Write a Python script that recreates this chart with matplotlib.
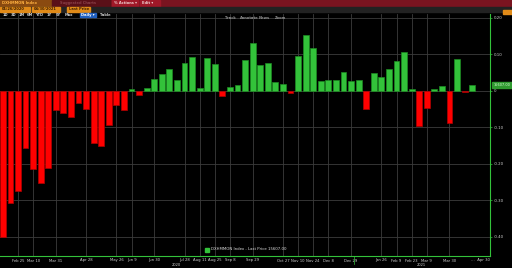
import numpy as np
import pandas as pd
import matplotlib
matplotlib.use("Agg")
import matplotlib.pyplot as plt
from matplotlib.patches import Rectangle

# --- dados ---
start = pd.Timestamp("2020-02-11")
values = [-0.400, -0.307, -0.274, -0.157, -0.215, -0.252, -0.212, -0.052, -0.061, -0.071,
          -0.035, -0.050, -0.143, -0.151, -0.094, -0.038, -0.053, 0.004, -0.012, 0.007,
          0.032, 0.046, 0.059, 0.030, 0.076, 0.092, 0.007, 0.089, 0.074, -0.015,
          0.010, 0.016, 0.084, 0.131, 0.071, 0.077, 0.025, 0.018, -0.006, 0.096,
          0.153, 0.116, 0.027, 0.030, 0.029, 0.051, 0.027, 0.029, -0.049, 0.048,
          0.038, 0.059, 0.082, 0.105, 0.005, -0.096, -0.047, 0.005, 0.014, -0.089,
          0.086, -0.003, 0.016]
dates = pd.date_range(start, periods=len(values), freq="7D")

tick_dates = ["2020-02-25", "2020-03-10", "2020-03-31", "2020-04-28", "2020-05-26", "2020-06-09",
              "2020-06-30", "2020-07-28", "2020-08-11", "2020-08-25", "2020-09-08", "2020-09-29",
              "2020-10-27", "2020-11-10", "2020-11-24", "2020-12-08", "2020-12-29",
              "2021-01-26", "2021-02-09", "2021-02-23", "2021-03-09", "2021-03-30"]
tick_labels = ["Feb 25", "Mar 10", "Mar 31", "Apr 28", "May 26", "Jun 9", "Jun 30", "Jul 28",
               "Aug 11", "Aug 25", "Sep 8", "Sep 29", "Oct 27", "Nov 10", "Nov 24", "Dec 8",
               "Dec 29", "Jan 26", "Feb 9", "Feb 23", "Mar 9", "Mar 30"]
y_ticks = [0.2, 0.1, 0.0, -0.1, -0.2, -0.3, -0.4]
y_labels = ["0.20", "0.10", "0", "-0.10", "-0.20", "-0.30", "-0.40"]
ticker = "DXHMMON Index"
last_price = "15607.00"

W, H = 512, 268
BG = "black"
GREEN = "#33c23a"
RED = "#ff0000"
GRID = "#3c3c3c"
TXT = "#d0d0d0"


def idx(d):
    return (pd.Timestamp(d) - start).days / 7.0


def fx(px):
    return px / W


def fy(py):
    return 1 - py / H


fig = plt.figure(figsize=(W / 100, H / 100), dpi=100, facecolor=BG)
ax = fig.add_axes([0, fy(256), fx(490), fy(14) - fy(256)], facecolor=BG)

x = np.array([idx(d) for d in dates])
vals = np.array(values)
cols = [GREEN if v >= 0 else RED for v in vals]
edges = ["#1d8a22" if v >= 0 else "#b00000" for v in vals]
ax.bar(x, vals, width=0.77, color=cols, edgecolor=edges, linewidth=0.5, zorder=3)

ax.set_xlim(-0.376, 64.35)
ax.set_ylim(-0.453, 0.21)

xt = [idx(d) for d in tick_dates]
ax.set_xticks(xt)
ax.set_xticklabels(tick_labels)
ax.set_yticks(y_ticks)
ax.set_yticklabels(y_labels)
ax.yaxis.tick_right()
ax.tick_params(axis="x", colors=TXT, labelsize=2.7, length=0, pad=1.8)
ax.tick_params(axis="y", colors=GREEN, labelcolor=TXT, labelsize=2.8, length=1.5, width=0.5, pad=1)

ax.grid(True, color=GRID, linewidth=0.6, zorder=0)
for s in ["left", "top"]:
    ax.spines[s].set_visible(False)
for s in ["bottom", "right"]:
    ax.spines[s].set_color(GREEN)
    ax.spines[s].set_linewidth(0.8)

# rótulo "Apr 30" e anos
fig.text(fx(490), fy(259.8), "...  Apr 30", color=TXT, fontsize=2.7, ha="right", va="center")
fig.text(fx(176), fy(264.5), "2020", color=TXT, fontsize=2.6, ha="center", va="center")
fig.text(fx(421), fy(264.5), "2021", color=TXT, fontsize=2.6, ha="center", va="center")
yb = idx("2021-01-01")
ax.plot([yb, yb], [-0.453, -0.475], color=GREEN, lw=0.5, clip_on=False)

# legenda
fig.patches.append(Rectangle((fx(205), fy(251.5)), fx(4), 4 / H, transform=fig.transFigure,
                             color=GREEN, figure=fig))
fig.text(fx(211), fy(249.5), f"{ticker} - Last Price {last_price}", color="#e0e0e0",
         fontsize=2.8, va="center")

# caixa do último preço
fig.patches.append(Rectangle((fx(492), fy(87.5)), fx(20), 6 / H, transform=fig.transFigure,
                             color="#2f9a2f", figure=fig))
fig.text(fx(502), fy(84.5), last_price, color="#d8ffd8", fontsize=2.5, ha="center", va="center")

# --- cabeçalho estilo terminal ---
def box(x0, y0, x1, y1, c):
    fig.patches.append(Rectangle((fx(x0), fy(y1)), fx(x1 - x0), (y1 - y0) / H,
                                 transform=fig.transFigure, color=c, figure=fig, zorder=5))


box(0, 0, 512, 6.5, "#7a1420")
box(0, 0, 52, 6.5, "#8a4a10")
box(52, 0, 110, 6.5, "#5a1018")
box(112, 0, 138, 6.5, "#a01828")
box(140, 0, 160, 6.5, "#a01828")
box(0, 6.5, 512, 11.5, "#222222")
box(0, 7, 30, 11.5, "#e08a18")
box(32, 7, 60, 11.5, "#e08a18")
box(67, 7, 90, 11.5, "#e08a18")
box(503, 10, 512, 14, "#e08a18")
box(80, 13, 92, 17, "#2060c0")
box(93, 13, 96, 17, "#2060c0")

hdr = dict(fontsize=2.6, fontweight="bold", va="center", zorder=6)
fig.text(fx(2), fy(3.2), ticker, color="#ffb040", **hdr)
fig.text(fx(60), fy(3.2), "Suggested Charts", color="#8a4048", **hdr)
fig.text(fx(114), fy(3.2), "% Actions ▾", color="#f0d0d0", **hdr)
fig.text(fx(142), fy(3.2), "Edit ▾", color="#f0d0d0", **hdr)
fig.text(fx(2), fy(9.2), "01/26/2020", color="#402000", **hdr)
fig.text(fx(34), fy(9.2), "04/30/2021", color="#402000", **hdr)
fig.text(fx(69), fy(9.2), "Last Price", color="#402000", **hdr)
for px, t in zip([3, 11, 19, 27, 35, 47, 56, 65], ["1D", "3D", "1M", "6M", "YTD", "1Y", "5Y", "Max"]):
    fig.text(fx(px), fy(15), t, color="#d0d0d0", **hdr)
fig.text(fx(81), fy(15), "Daily ▾", color="white", **hdr)
fig.text(fx(100), fy(15), "Table", color="#d0d0d0", **hdr)
for px, t in zip([225, 240, 259, 275], ["Track", "Annotate", "News", "Zoom"]):
    fig.text(fx(px), fy(18), t, color="#909090", **hdr)

fig.savefig("out.png", dpi=100, facecolor=BG)
